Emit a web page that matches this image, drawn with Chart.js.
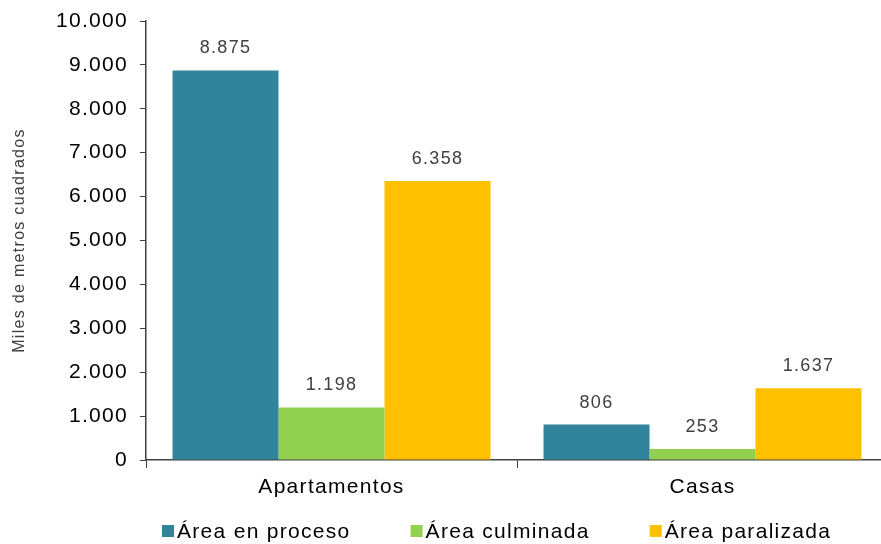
<!DOCTYPE html>
<html>
<head>
<meta charset="utf-8">
<script src="https://cdn.jsdelivr.net/npm/chart.js@4.4.1/dist/chart.umd.min.js"></script>
<style>
    html, body { margin: 0; padding: 0; background: #fff; overflow: hidden; }
    #wrap { width: 890px; height: 544px; }
</style>
</head>
<body>
<div id="wrap"><canvas id="barChart" width="890" height="544"></canvas></div>
<script>
var categories = ['Apartamentos', 'Casas'];
var seriesNames = ['Área en proceso', 'Área culminada', 'Área paralizada'];
var enProceso = [8875, 806];
var culminada = [1198, 253];
var paralizada = [6358, 1637];
var yTicks = [0, 1000, 2000, 3000, 4000, 5000, 6000, 7000, 8000, 9000, 10000];

var FONT = '"Liberation Sans", Arial, sans-serif';

function fmt(v) {
    return v.toString().replace(/\B(?=(\d{3})+(?!\d))/g, '.');
}

// the original text is a bit wider than Liberation Sans
var spacing = {
    id: 'spacing',
    beforeLayout: function (chart) { chart.ctx.letterSpacing = '1.3px'; },
    beforeDraw: function (chart) { chart.ctx.letterSpacing = '1.3px'; }
};

// draws the value above each bar
var valueLabels = {
    id: 'valueLabels',
    afterDatasetsDraw: function (chart) {
        var ctx = chart.ctx;
        ctx.save();
        ctx.font = '18px ' + FONT;
        ctx.fillStyle = '#404040';
        ctx.textAlign = 'center';
        ctx.textBaseline = 'bottom';
        chart.data.datasets.forEach(function (ds, i) {
            chart.getDatasetMeta(i).data.forEach(function (bar, j) {
                ctx.fillText(fmt(ds.data[j]), bar.x, bar.y - 13);
            });
        });
        ctx.restore();
    }
};

// legend row under the axis
var bottomLegend = {
    id: 'bottomLegend',
    afterDraw: function (chart) {
        var ctx = chart.ctx;
        var x = 162, y = 531;
        ctx.save();
        ctx.font = '21px ' + FONT;
        ctx.textBaseline = 'middle';
        ctx.textAlign = 'left';
        chart.data.datasets.forEach(function (ds) {
            ctx.fillStyle = ds.backgroundColor;
            ctx.fillRect(x, y - 6, 12, 12);
            ctx.fillStyle = '#000';
            ctx.fillText(ds.label, x + 15, y + 1);
            x += 15 + ctx.measureText(ds.label).width + 60;
        });
        ctx.restore();
    }
};

var ctx1 = document.getElementById('barChart').getContext('2d');
var barChart1 = new Chart(ctx1, {
    type: 'bar',
    data: {
        labels: categories,
        datasets: [{
            label: seriesNames[0],
            data: enProceso,
            backgroundColor: '#31849B'
        }, {
            label: seriesNames[1],
            data: culminada,
            backgroundColor: '#92D050'
        }, {
            label: seriesNames[2],
            data: paralizada,
            backgroundColor: '#FFC000'
        }]
    },
    plugins: [spacing, valueLabels, bottomLegend],
    options: {
        responsive: false,
        animation: false,
        layout: { padding: { top: 21, right: 2, left: 0, bottom: 40 } },
        categoryPercentage: 0.857,
        barPercentage: 1,
        plugins: {
            legend: { display: false },
            tooltip: { enabled: false }
        },
        scales: {
            x: {
                grid: { offset: true, drawOnChartArea: false, tickLength: 8, color: '#404040' },
                border: { color: '#404040', width: 1.5 },
                ticks: {
                    color: '#000',
                    padding: 7,
                    font: { family: FONT, size: 21 }
                },
                afterFit: function (scale) { scale.height = 44; }
            },
            y: {
                min: 0,
                max: 10000,
                afterBuildTicks: function (scale) {
                    scale.ticks = yTicks.map(function (v) { return { value: v }; });
                },
                grid: { drawOnChartArea: false, tickLength: 6, color: '#404040' },
                border: { color: '#404040', width: 1.5 },
                ticks: {
                    color: '#000',
                    padding: 12,
                    font: { family: FONT, size: 21 },
                    callback: function (v) { return fmt(v); }
                },
                title: {
                    display: true,
                    text: 'Miles de metros cuadrados',
                    color: '#404040',
                    padding: { top: 10, bottom: 0 },
                    font: { family: FONT, size: 16 }
                },
                afterFit: function (scale) {
                    scale.width = 146;
                    scale.paddingTop = 0;
                    scale.paddingBottom = 0;
                }
            }
        }
    }
});
</script>
</body>
</html>
